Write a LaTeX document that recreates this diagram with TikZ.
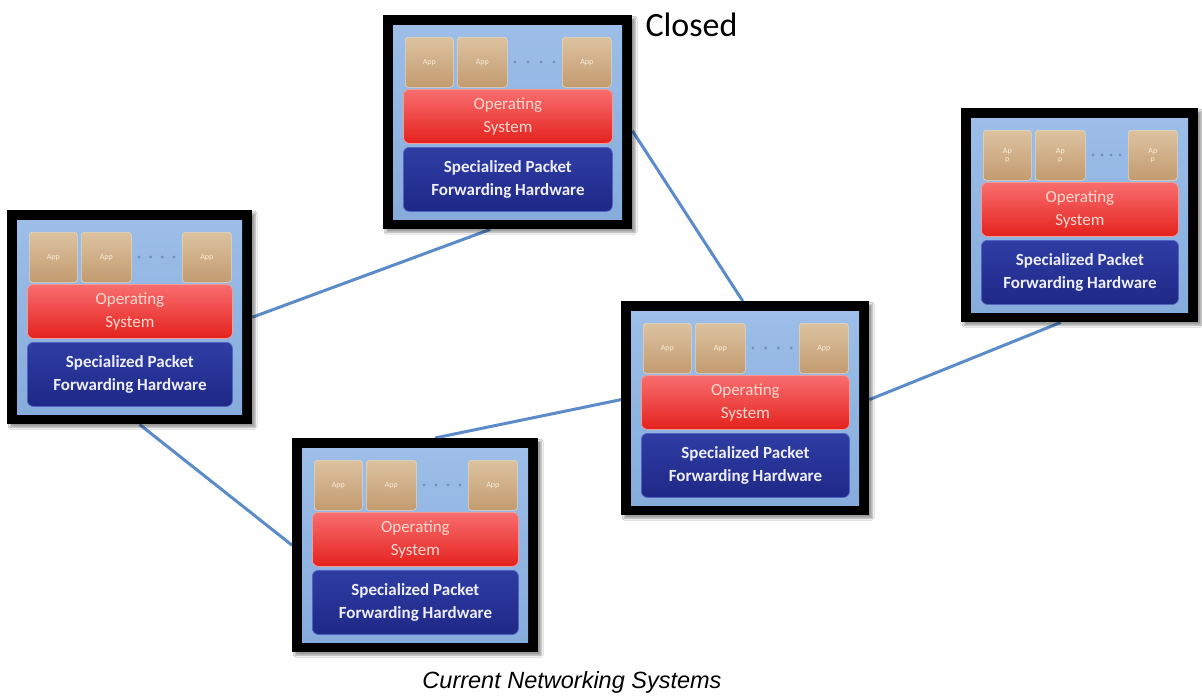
\documentclass[tikz,border=0pt]{standalone}
\usepackage{fontspec}
\setmainfont{Carlito}
\newfontfamily\arialf{Liberation Sans}
\usetikzlibrary{calc,shadows.blur}
\definecolor{linkc}{HTML}{5B8BC9}
\definecolor{innertop}{HTML}{9CBEE8}
\definecolor{innerbot}{HTML}{86ACDC}
\definecolor{apptop}{HTML}{DCC2A0}
\definecolor{appbot}{HTML}{C39B6F}
\definecolor{appedge}{HTML}{E6D6BE}
\definecolor{apptext}{HTML}{F8ECD8}
\definecolor{ostop}{HTML}{F86E6E}
\definecolor{osbot}{HTML}{E4221E}
\definecolor{osedge}{HTML}{F29A96}
\definecolor{ostext}{HTML}{FFD8D0}
\definecolor{hwtop}{HTML}{2F3DA4}
\definecolor{hwbot}{HTML}{1E2886}
\definecolor{hwedge}{HTML}{5262C2}
\definecolor{hwtext}{HTML}{EEEEFF}
\definecolor{dotcol}{HTML}{7890B8}
\pgfdeclarelayer{bg}
\pgfsetlayers{bg,main}
\tikzset{
  outerbox/.style={fill=black, draw=none, inner sep=0pt, anchor=north west,
    blur shadow={shadow xshift=3pt, shadow yshift=-3pt, shadow blur steps=6}},
  innerbox/.style={top color=innertop, bottom color=innerbot, draw=none, inner sep=0pt, anchor=north west},
  appbox/.style={rounded corners=3pt, top color=apptop, bottom color=appbot, draw=appedge,
    line width=0.6pt, inner sep=0pt, anchor=north west, minimum width=48pt, minimum height=50pt,
    align=center, font=\fontsize{8}{8}\selectfont, text=apptext},
  osbox/.style={rounded corners=6pt, top color=ostop, bottom color=osbot, draw=osedge,
    line width=0.8pt, anchor=north west, inner sep=0pt, minimum height=54pt, align=center,
    font=\fontsize{17}{23}\selectfont, text=ostext},
  hwbox/.style={rounded corners=6pt, top color=hwtop, bottom color=hwbot, draw=hwedge,
    line width=0.8pt, anchor=north west, inner sep=0pt, minimum height=64pt, align=center,
    font=\fontsize{17}{23}\selectfont\bfseries, text=hwtext},
  link/.style={draw=linkc, line width=3pt},
}
\newcommand\netbox[5]{%
  \begin{scope}[shift={(#2,#3)}]
    \node[outerbox, minimum width=#4pt, minimum height=214pt] (#1) at (0,0) {};
    \node[innerbox, minimum width={#4pt-20pt}, minimum height=194pt] (#1in) at (10,10) {};
    \node[appbox] (#1a) at (22,22) {#5};
    \node[appbox, minimum width=50pt] (#1b) at (74,22) {#5};
    \node[appbox, minimum width=49pt] (#1c) at ({#4-70},22) {#5};
    \foreach \dd in {0,...,3} \fill[dotcol] ({132+\dd*(#4-210)/3},47) circle (1.6pt);
    \node[osbox, minimum width={#4pt-40pt}] (#1os) at (20,74) {Operating\\System};
    \node[hwbox, minimum width={#4pt-40pt}] (#1hw) at (20,132) {Specialized Packet\\Forwarding Hardware};
  \end{scope}}
\begin{document}
\begin{tikzpicture}[x=1pt,y=-1pt]
  \useasboundingbox (0,0) rectangle (1202,696);
  \netbox{b1}{383}{15}{249}{App}
  \netbox{b2}{7}{210}{245}{App}
  \netbox{b3}{292}{438}{246}{App}
  \netbox{b4}{621}{301}{248}{App}
  \netbox{b5}{961}{108}{237}{Ap\\p}
  \node[anchor=base west, font=\fontsize{34}{38}\selectfont] (closed) at (642,36) {Closed};
  \node[font=\arialf\itshape\fontsize{23.5}{27}\selectfont] (cap) at (572,682) {Current Networking Systems};
  \begin{pgfonlayer}{bg}
    \fill[white] (0,0) rectangle (1202,696);
    \draw[link] (b2.east) -- ($(b1.south west)!0.43!(b1.south east)$);
    \draw[link] ($(b1.north east)!0.54!(b1.south east)$) -- ($(b4.north west)!0.49!(b4.north east)$);
    \draw[link] ($(b2.south west)!0.54!(b2.south east)$) -- ($(b3.north west)!0.5!(b3.south west)$);
    \draw[link] ($(b3.north west)!0.58!(b3.north east)$) -- ($(b4.north west)!0.46!(b4.south west)$);
    \draw[link] ($(b4.north east)!0.46!(b4.south east)$) -- ($(b5.south west)!0.42!(b5.south east)$);
  \end{pgfonlayer}
\end{tikzpicture}
\end{document}
